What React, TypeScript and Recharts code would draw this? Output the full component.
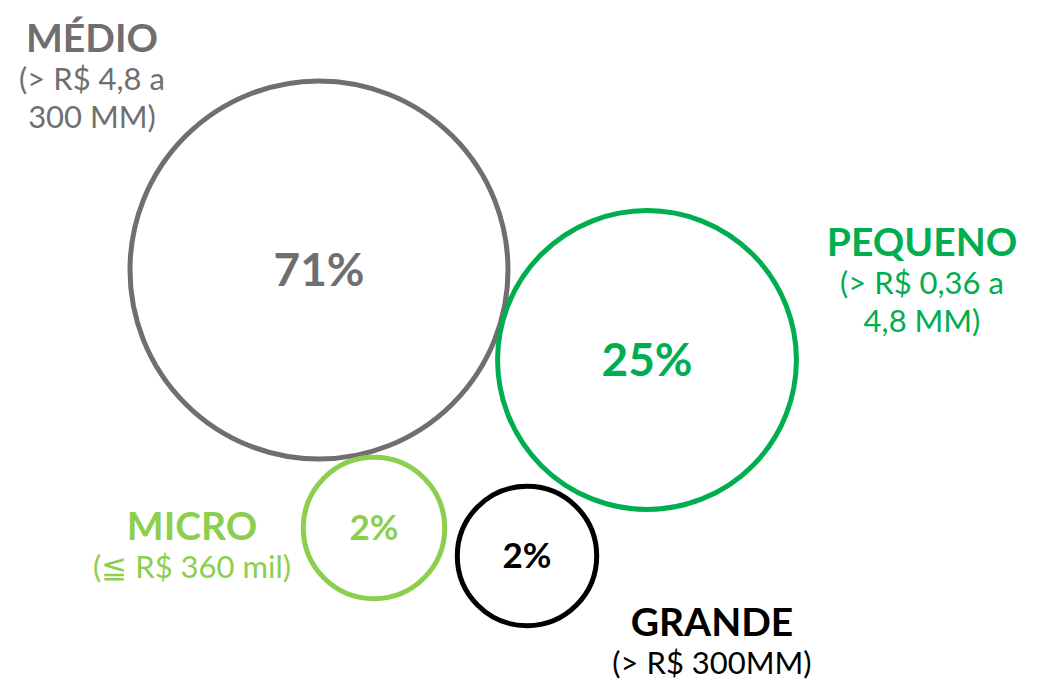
import { Scatter, ScatterChart, XAxis, YAxis, ZAxis } from 'recharts';

const categories = ['MÉDIO', 'PEQUENO', 'MICRO', 'GRANDE'];
const shares = [71, 25, 2, 2];
const bubbleX = [319, 647, 374, 527];
const bubbleY = [270, 360, 528, 556];
const bubbleSize = [100, 62.5, 14, 13.6];
const rangeLines = [
  ['(> R$ 4,8 a', '300 MM)'],
  ['(> R$ 0,36 a', '4,8 MM)'],
  ['(≦ R$ 360 mil)'],
  ['(> R$ 300MM)'],
];
const labelX = [92, 922, 192, 712];
const labelY = [52, 256, 540, 636];

const colors = ['#706e6e', '#00ad4f', '#8ccf4f', '#000000'];
const FONT = 'Lato, "Open Sans", sans-serif';

const bubbles = categories.map((name, i) => ({
  name,
  x: bubbleX[i],
  y: bubbleY[i],
  z: bubbleSize[i],
  share: shares[i],
  color: colors[i],
}));

const labels = categories.map((name, i) => ({
  name,
  x: labelX[i],
  y: labelY[i],
  lines: rangeLines[i],
  color: colors[i],
}));

function BubbleShape(props: any) {
  const { cx, cy, width, payload } = props;
  const r = width / 2;
  const big = payload.share >= 10;
  return (
    <g>
      <circle cx={cx} cy={cy} r={r} fill="none" stroke={payload.color} strokeWidth={5} />
      <text
        x={cx}
        y={cy}
        dy={big ? 16 : 12}
        textAnchor="middle"
        fill={payload.color}
        fontFamily={FONT}
        fontWeight={700}
        fontSize={big ? 46 : 35}
      >
        {payload.share}%
      </text>
    </g>
  );
}

function LabelShape(props: any) {
  const { cx, cy, payload } = props;
  return (
    <g>
      <text
        x={cx}
        y={cy}
        textAnchor="middle"
        fill={payload.color}
        fontFamily={FONT}
        fontWeight={700}
        fontSize={39}
      >
        {payload.name}
      </text>
      {payload.lines.map((line: string, k: number) => (
        <text
          key={k}
          x={cx}
          y={cy + 38 + k * 38}
          textAnchor="middle"
          fill={payload.color}
          fontFamily={FONT}
          fontSize={31}
        >
          {line}
        </text>
      ))}
    </g>
  );
}

export default function App() {
  return (
    <div style={{ position: 'absolute', left: 0, top: 0, background: '#fff' }}>
      <ScatterChart width={1038} height={682} margin={{ top: 0, right: 0, bottom: 0, left: 0 }}>
        <XAxis type="number" dataKey="x" domain={[0, 1038]} hide />
        <YAxis type="number" dataKey="y" domain={[0, 682]} reversed hide />
        <ZAxis type="number" dataKey="z" domain={[0, 100]} range={[0, Math.PI * 189 * 189]} />
        <Scatter data={bubbles} shape={BubbleShape} isAnimationActive={false} />
        <Scatter data={labels} shape={LabelShape} isAnimationActive={false} />
      </ScatterChart>
    </div>
  );
}
